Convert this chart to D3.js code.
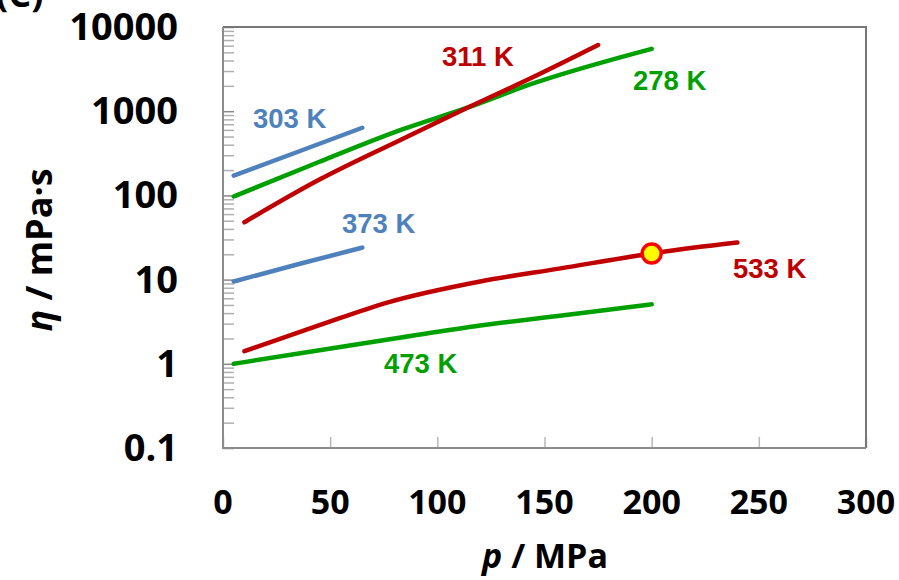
<!DOCTYPE html>
<html><head><meta charset="utf-8">
<script src="https://cdn.jsdelivr.net/npm/d3@7"></script>
<style>html,body{margin:0;padding:0;background:#fff;overflow:hidden}</style>
</head><body>
<svg id="chart" width="899" height="580"></svg>
<script>
// ---- data ----
const xTicks = [0, 50, 100, 150, 200, 250, 300];
const yTicks = [0.1, 1, 10, 100, 1000, 10000];
const yTickLabels = ["0.1", "1", "10", "100", "1000", "10000"];

const p303 = [5, 35, 65];
const eta303 = [172, 330, 636];
const p373 = [5, 35, 65];
const eta373 = [9.5, 15.2, 24];
const p278 = [5, 45, 83, 114, 145, 200];
const eta278 = [97, 251, 600, 1100, 2150, 5500];
const p311 = [10, 45, 83, 114, 145, 175];
const eta311 = [48, 154, 458, 1097, 2560, 6100];
const p533 = [10, 45, 77, 120, 157.5, 200, 220, 240];
const eta533 = [1.41, 2.87, 5.37, 9.5, 13.6, 20.4, 24, 27.6];
const p473 = [5, 45, 83, 120, 160, 200];
const eta473 = [1.0, 1.45, 2.05, 2.85, 3.8, 5.1];
const markerP = [200];
const markerEta = [20.4];

const seriesNames = ["303 K", "373 K", "278 K", "311 K", "533 K", "473 K"];

// ---- layout ----
const svg = d3.select("#chart");
const L = 223, R = 866, T = 27, B = 448;
const x = d3.scaleLinear().domain([0, 300]).range([L, R]);
const y = d3.scaleLog().domain([0.1, 10000]).range([B, T]);

const BLUE = "#4f81bd", RED = "#c00000", GREEN = "#00a000";

// partial panel letter at top-left (clipped, as in the original figure)
svg.append("text").attr("x", -4).attr("y", 7)
  .attr("font-family", "Open Sans").attr("font-weight", 700).attr("font-size", 36)
  .attr("fill", "#000").text("(C)");

// minor ticks on y
const minor = [];
for (let e = -1; e < 4; e++) for (let k = 2; k <= 9; k++) minor.push(k * Math.pow(10, e));
svg.append("g").attr("transform", `translate(${L},0)`)
  .call(d3.axisRight(y).tickValues(minor).tickSize(11).tickFormat(""))
  .call(g => g.select(".domain").remove())
  .call(g => g.selectAll("line").attr("stroke", "#b0b0b0").attr("stroke-width", 1.5));
svg.append("g").attr("transform", `translate(${L},0)`)
  .call(d3.axisRight(y).tickValues(yTicks).tickSize(11).tickFormat(""))
  .call(g => g.select(".domain").remove())
  .call(g => g.selectAll("line").attr("stroke", "#888").attr("stroke-width", 1.5));
// x ticks (inward)
svg.append("g").attr("transform", `translate(0,${B})`)
  .call(d3.axisTop(x).tickValues(xTicks).tickSize(11).tickFormat(""))
  .call(g => g.select(".domain").remove())
  .call(g => g.selectAll("line").attr("stroke", "#b8b8b8").attr("stroke-width", 1.5));

// frame
svg.append("path").attr("d", `M${L},${T}H${R}V${B}`).attr("fill", "none")
  .attr("stroke", "#777").attr("stroke-width", 2);
svg.append("path").attr("d", `M${L},${T}V${B}H${R}`).attr("fill", "none")
  .attr("stroke", "#8c8c8c").attr("stroke-width", 2);

// tick labels
svg.append("g").selectAll("text").data(yTicks).join("text")
  .attr("x", 178).attr("y", d => y(d) + 13)
  .attr("text-anchor", "end")
  .attr("font-family", "Open Sans").attr("font-weight", 700).attr("font-size", 38)
  .attr("fill", "#000").text((d, i) => yTickLabels[i]);
svg.append("g").selectAll("text").data(xTicks).join("text")
  .attr("x", d => x(d)).attr("y", 514)
  .attr("text-anchor", "middle")
  .attr("font-family", "Open Sans").attr("font-weight", 700).attr("font-size", 34)
  .attr("fill", "#000").text(d => d);

// axis titles
const xt = svg.append("text").attr("x", 545).attr("y", 568).attr("text-anchor", "middle")
  .attr("font-family", "Open Sans").attr("font-weight", 700).attr("font-size", 34).attr("fill", "#000");
xt.append("tspan").attr("font-style", "italic").text("p");
xt.append("tspan").text(" / MPa");
const yt = svg.append("text").attr("transform", "translate(52,250) rotate(-90)").attr("text-anchor", "middle")
  .attr("font-family", "Open Sans").attr("font-weight", 700).attr("font-size", 36).attr("fill", "#000");
yt.append("tspan").attr("font-style", "italic").text("η");
yt.append("tspan").text(" / mPa·s");

// lines
const line = d3.line().x(d => x(d[0])).y(d => y(d[1])).curve(d3.curveMonotoneX);
const series = [
  {p: p303, v: eta303, c: BLUE},
  {p: p373, v: eta373, c: BLUE},
  {p: p278, v: eta278, c: GREEN},
  {p: p311, v: eta311, c: RED},
  {p: p533, v: eta533, c: RED},
  {p: p473, v: eta473, c: GREEN}
];
svg.append("g").selectAll("path").data(series).join("path")
  .attr("d", s => line(s.p.map((p, i) => [p, s.v[i]])))
  .attr("fill", "none").attr("stroke", s => s.c).attr("stroke-width", 4.5)
  .attr("stroke-linecap", "round").attr("stroke-linejoin", "round");

// marker
svg.append("g").selectAll("circle").data(markerP).join("circle")
  .attr("cx", d => x(d)).attr("cy", (d, i) => y(markerEta[i])).attr("r", 9.5)
  .attr("fill", "#ffff00").attr("stroke", "#ff0000").attr("stroke-width", 3.5);

// series labels
const labelPos = [[253, 128], [342, 233], [633, 90], [442, 66], [733, 278], [384, 373]];
const labelCol = [BLUE, BLUE, GREEN, RED, RED, GREEN];
svg.append("g").selectAll("text").data(seriesNames).join("text")
  .attr("x", (d, i) => labelPos[i][0]).attr("y", (d, i) => labelPos[i][1])
  .attr("font-family", "Liberation Sans").attr("font-weight", 700).attr("font-size", 27.5)
  .attr("fill", (d, i) => labelCol[i]).text(d => d);
</script>
</body></html>
